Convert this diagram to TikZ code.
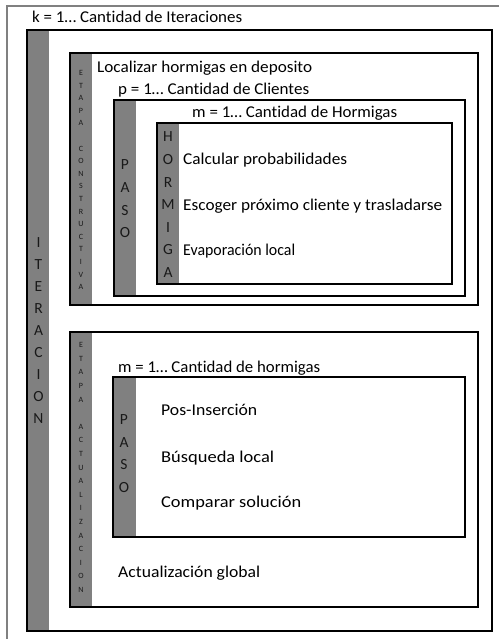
\documentclass[tikz,border=0pt]{standalone}
\usepackage{graphicx}
\usepackage{fontspec}
\setmainfont{Carlito}[Ligatures={NoCommon}]
\newcommand\fitw[2]{\resizebox{#1pt}{\height}{#2}}
\tikzset{
  boxline/.style={draw=black, line width=2pt},
  stripe/.style={fill=black!50, draw=none},
  maintext/.style={anchor=base west, inner sep=0pt, font=\fontsize{16.5}{19}\selectfont},
  bigletter/.style={anchor=center, inner sep=0pt, font=\fontsize{15.5}{18}\selectfont, text=black!90},
  smallletter/.style={anchor=center, inner sep=0pt, font=\fontsize{8}{9}\selectfont, text=black!90},
  frameline/.style={draw=black!50, line width=1.2pt}
}
\begin{document}
\begin{tikzpicture}[x=1pt,y=-1pt]
\useasboundingbox (0,0) rectangle (499,639);
% outer frame (cropped table cell)
\draw[frameline] (499,6) -- (7,6) -- (7,639);
\node[maintext] (title) at (32,23) {\fitw{210}{k = 1… Cantidad de Iteraciones}};

% ITERACION box
\fill[stripe] (27,30) rectangle (49,631);
\draw[boxline] (27,30) rectangle (492,631);
\foreach \l [count=\i from 0] in {I,T,E,R,A,C,I,O,N}
  \node[bigletter] (it\i) at (38.5,243+\i*22) {\l};

% ETAPA CONSTRUCTIVA
\fill[stripe] (70,53) rectangle (92,305);
\draw[boxline] (70,53) rectangle (478,305);
\foreach \l [count=\i from 0] in {E,T,A,P,A,{},C,O,N,S,T,R,U,C,T,I,V,A}
  \node[smallletter] (ec\i) at (81,73+\i*12.59) {\l};
\node[maintext] (loc) at (97,73) {\fitw{215}{Localizar hormigas en deposito}};
\node[maintext] (pcli) at (118,95) {\fitw{191}{p = 1… Cantidad de Clientes}};

% PASO (constructive)
\fill[stripe] (114,100) rectangle (136,296);
\draw[boxline] (114,100) rectangle (465,296);
\foreach \l [count=\i from 0] in {P,A,S,O}
  \node[bigletter] (pa\i) at (125,165+\i*22.6) {\l};
\node[maintext] (mhor) at (192,118) {\fitw{205}{m = 1… Cantidad de Hormigas}};

% HORMIGA
\fill[stripe] (157,123) rectangle (179,284);
\draw[boxline, line width=2.5pt] (157,123) rectangle (452,284);
\foreach \l [count=\i from 0] in {H,O,R,M,I,G,A}
  \node[bigletter] (ho\i) at (168,137+\i*22.6) {\l};
\node[maintext] (calc) at (183,165) {\fitw{164}{Calcular probabilidades}};
\node[maintext] (esco) at (183,210) {\fitw{259}{Escoger próximo cliente y trasladarse}};
\node[maintext] (evap) at (183,255) {\fitw{112}{Evaporación local}};

% ETAPA ACTUALIZACION
\fill[stripe] (70,332) rectangle (92,607);
\draw[boxline] (70,332) rectangle (478,607);
\foreach \l [count=\i from 0] in {E,T,A,P,A,{},A,C,T,U,A,L,I,Z,A,C,I,O,N}
  \node[smallletter] (ea\i) at (81,345+\i*13.61) {\l};
\node[maintext] (mhor2) at (118,372) {\fitw{202}{m = 1… Cantidad de hormigas}};
\node[maintext] (glob) at (118,577) {\fitw{142}{Actualización global}};

% PASO (update)
\fill[stripe] (113,377) rectangle (136,537);
\draw[boxline, line width=2.5pt] (113,377) rectangle (465,537);
\foreach \l [count=\i from 0] in {P,A,S,O}
  \node[bigletter] (pb\i) at (124,420+\i*22.4) {\l};
\node[maintext] (posi) at (161,415) {\fitw{96}{Pos-Inserción}};
\node[maintext] (busq) at (161,462) {\fitw{113}{Búsqueda local}};
\node[maintext] (comp) at (161,507) {\fitw{140}{Comparar solución}};
\end{tikzpicture}
\end{document}
